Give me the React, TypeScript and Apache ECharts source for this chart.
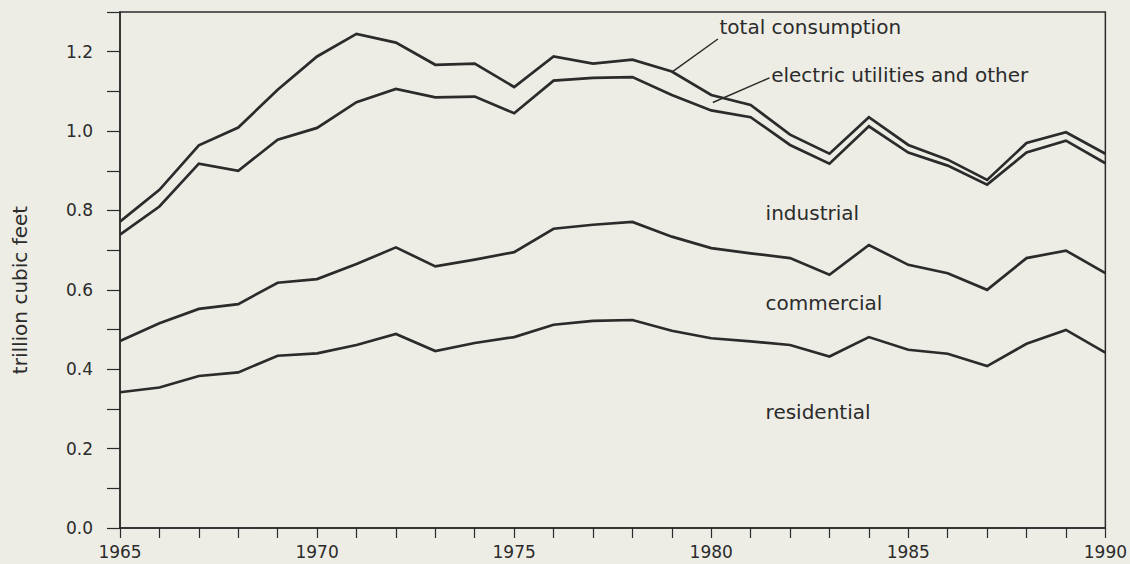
import React, { useEffect, useRef } from "react";
import * as echarts from "echarts";

const years = Array.from({ length: 26 }, (_, i) => 1965 + i);

const totalConsumption = [
  0.772, 0.852, 0.964, 1.009, 1.104, 1.188, 1.245, 1.223, 1.167, 1.17, 1.111, 1.188, 1.17,
  1.18, 1.15, 1.091, 1.066, 0.991, 0.943, 1.035, 0.965, 0.928, 0.877, 0.97, 0.997, 0.943,
];
const electricLine = [
  0.739, 0.81, 0.918, 0.9, 0.978, 1.008, 1.073, 1.106, 1.085, 1.087, 1.045, 1.127, 1.134,
  1.136, 1.091, 1.052, 1.035, 0.965, 0.918, 1.012, 0.946, 0.913, 0.865, 0.946, 0.976, 0.919,
];
const industrialLine = [
  0.471, 0.516, 0.552, 0.564, 0.618, 0.627, 0.665, 0.707, 0.659, 0.676, 0.695, 0.754, 0.764,
  0.771, 0.734, 0.705, 0.692, 0.68, 0.638, 0.713, 0.663, 0.642, 0.6, 0.68, 0.699, 0.642,
];
const commercialLine = [
  0.342, 0.354, 0.383, 0.392, 0.434, 0.44, 0.461, 0.489, 0.446, 0.466, 0.481, 0.512, 0.522,
  0.524, 0.497, 0.478, 0.47, 0.461, 0.432, 0.481, 0.449, 0.439, 0.408, 0.464, 0.499, 0.442,
];

// annotation labels: [text, year, value] (left edge, vertical middle)
const labelTexts = [
  "total consumption",
  "electric utilities and other",
  "industrial",
  "commercial",
  "residential",
];
const labelYears = [1980.21, 1981.52, 1981.38, 1981.38, 1981.38];
const labelValues = [1.261, 1.142, 0.794, 0.567, 0.291];

// leader lines: from [year, value] to [year, value]
const leaderFrom = [
  [1979.02, 1.15],
  [1980.04, 1.072],
];
const leaderTo = [
  [1980.17, 1.232],
  [1981.48, 1.134],
];

const yAxisTitle = "trillion cubic feet";

const INK = "#2b2b2b";
const FONT = "DejaVu Sans";

export default function App() {
  const ref = useRef<HTMLDivElement>(null);

  useEffect(() => {
    if (!ref.current) return;
    const chart = echarts.init(ref.current, undefined, { renderer: "svg" });
    const mk = (d: number[]) => years.map((y, i) => [y, d[i]]);
    const lineSeries = (name: string, d: number[]) => ({
      name,
      type: "line",
      data: mk(d),
      symbol: "none",
      lineStyle: { color: INK, width: 2.7, join: "miter" },
      silent: true,
    });
    chart.setOption({
      animation: false,
      backgroundColor: "#ededE6",
      grid: {
        left: 120,
        right: 24,
        top: 12,
        bottom: 36,
        show: true,
        borderColor: INK,
        borderWidth: 1.5,
        backgroundColor: "transparent",
      },
      xAxis: {
        type: "value",
        min: 1965,
        max: 1990,
        interval: 1,
        axisLine: { lineStyle: { color: INK, width: 1.5 } },
        axisTick: { length: 10, lineStyle: { color: INK, width: 1.2 } },
        splitLine: { show: false },
        axisLabel: {
          color: INK,
          fontFamily: FONT,
          fontSize: 17,
          margin: 15,
          formatter: (v: number) => (v % 5 === 0 ? String(v) : ""),
        },
      },
      yAxis: {
        type: "value",
        min: 0,
        max: 1.3,
        interval: 0.1,
        axisLine: { lineStyle: { color: INK, width: 1.5 } },
        axisTick: { length: 13, lineStyle: { color: INK, width: 1.2 } },
        splitLine: { show: false },
        axisLabel: {
          color: INK,
          fontFamily: FONT,
          fontSize: 17,
          margin: 27,
          formatter: (v: number) =>
            Math.round(v * 10) % 2 === 0 && Math.round(v * 10) <= 12 ? v.toFixed(1) : "",
        },
      },
      series: [
        lineSeries("total consumption", totalConsumption),
        lineSeries("electric utilities and other", electricLine),
        lineSeries("industrial", industrialLine),
        lineSeries("commercial", commercialLine),
      ],
    });

    const graphics: any[] = [];
    labelTexts.forEach((t, i) => {
      const p = chart.convertToPixel({ gridIndex: 0 }, [labelYears[i], labelValues[i]]);
      graphics.push({
        type: "text",
        x: p[0],
        y: p[1],
        style: {
          text: t,
          fill: INK,
          font: `20px "${FONT}"`,
          align: "left",
          verticalAlign: "middle",
        },
      });
    });
    leaderFrom.forEach((f, i) => {
      const a = chart.convertToPixel({ gridIndex: 0 }, f);
      const b = chart.convertToPixel({ gridIndex: 0 }, leaderTo[i]);
      graphics.push({
        type: "line",
        shape: { x1: a[0], y1: a[1], x2: b[0], y2: b[1] },
        style: { stroke: INK, lineWidth: 1.5 },
      });
    });
    graphics.push({
      type: "text",
      x: 20,
      y: 290,
      rotation: Math.PI / 2,
      style: {
        text: yAxisTitle,
        fill: INK,
        font: `20px "${FONT}"`,
        align: "center",
        verticalAlign: "middle",
      },
    });
    chart.setOption({ graphic: graphics });

    return () => chart.dispose();
  }, []);

  return (
    <div
      ref={ref}
      style={{ position: "fixed", left: 0, top: 0, width: 1130, height: 564 }}
    />
  );
}
